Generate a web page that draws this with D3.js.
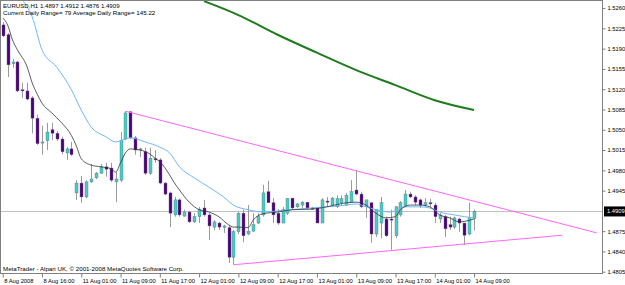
<!DOCTYPE html>
<html>
<head>
<meta charset="utf-8">
<title></title>
<style>
body { margin: 0; background: #fff; }
text { font-family: "Liberation Sans", Arial, sans-serif; }
</style>
</head>
<body>
<script src="https://cdnjs.cloudflare.com/ajax/libs/d3/7.8.5/d3.min.js"></script>
<script>

var w = 625, h = 285;

// tick labels on the time axis, one every 8 hourly bars
var timeLabels = ["8 Aug 2008", "8 Aug 16:00", "11 Aug 01:00", "11 Aug 09:00", "11 Aug 17:00",
    "12 Aug 01:00", "12 Aug 09:00", "12 Aug 17:00", "13 Aug 01:00", "13 Aug 09:00",
    "13 Aug 17:00", "14 Aug 01:00", "14 Aug 09:00"];
var priceTicks = [1.5260, 1.5225, 1.5190, 1.5155, 1.5120, 1.5085, 1.5050, 1.5015,
    1.4980, 1.4945, 1.4875, 1.4840, 1.4805];

// EURUSD H1 candles
var opens = [1.5231, 1.5214, 1.5164, 1.5167, 1.5119, 1.5117, 1.5105, 1.5070, 1.5027, 1.5031,
    1.5050, 1.5044, 1.5034, 1.5010, 1.5017, 1.4941, 1.4958, 1.4934, 1.4960, 1.4967,
    1.4975, 1.4986, 1.4984, 1.4960, 1.4963, 1.5034, 1.5081, 1.5036, 1.5015, 1.5012,
    1.4975, 1.5000, 1.4998, 1.4958, 1.4941, 1.4903, 1.4929, 1.4901, 1.4908, 1.4891,
    1.4900, 1.4915, 1.4903, 1.4882, 1.4889, 1.4881, 1.4881, 1.4830, 1.4874, 1.4906,
    1.4870, 1.4875, 1.4889, 1.4903, 1.4943, 1.4924, 1.4906, 1.4889, 1.4906, 1.4932,
    1.4917, 1.4920, 1.4925, 1.4915, 1.4915, 1.4889, 1.4927, 1.4920, 1.4917, 1.4924,
    1.4920, 1.4925, 1.4946, 1.4939, 1.4917, 1.4924, 1.4870, 1.4889, 1.4896, 1.4896,
    1.4867, 1.4903, 1.4918, 1.4939, 1.4934, 1.4929, 1.4920, 1.4924, 1.4920, 1.4896,
    1.4900, 1.4886, 1.4882, 1.4896, 1.4889, 1.4870, 1.4897];
var highs = [1.5236, 1.5217, 1.5172, 1.5169, 1.5131, 1.5131, 1.5108, 1.5076, 1.5057, 1.5062,
    1.5062, 1.5048, 1.5038, 1.5020, 1.5029, 1.4963, 1.4970, 1.4963, 1.4991, 1.4977,
    1.4991, 1.4993, 1.4993, 1.4977, 1.5046, 1.5082, 1.5082, 1.5039, 1.5019, 1.5019,
    1.5019, 1.5015, 1.5001, 1.4960, 1.4943, 1.4934, 1.4931, 1.4912, 1.4910, 1.4906,
    1.4917, 1.4929, 1.4906, 1.4894, 1.4891, 1.4886, 1.4886, 1.4877, 1.4908, 1.4912,
    1.4920, 1.4906, 1.4906, 1.4955, 1.4962, 1.4932, 1.4913, 1.4917, 1.4932, 1.4932,
    1.4924, 1.4927, 1.4925, 1.4917, 1.4915, 1.4932, 1.4934, 1.4934, 1.4937, 1.4937,
    1.4941, 1.4963, 1.4981, 1.4943, 1.4929, 1.4924, 1.4912, 1.4934, 1.4900, 1.4912,
    1.4918, 1.4927, 1.4946, 1.4943, 1.4937, 1.4931, 1.4932, 1.4931, 1.4924, 1.4906,
    1.4903, 1.4900, 1.4900, 1.4898, 1.4889, 1.4924, 1.4912];
var lows = [1.5210, 1.5141, 1.5157, 1.5115, 1.5105, 1.5101, 1.5044, 1.5024, 1.5007, 1.5015,
    1.5032, 1.5031, 1.5008, 1.4998, 1.5005, 1.4929, 1.4924, 1.4932, 1.4958, 1.4965,
    1.4974, 1.4969, 1.4960, 1.4925, 1.4960, 1.5032, 1.5034, 1.5007, 1.5003, 1.4972,
    1.4972, 1.4993, 1.4956, 1.4937, 1.4882, 1.4900, 1.4900, 1.4900, 1.4889, 1.4889,
    1.4889, 1.4900, 1.4860, 1.4877, 1.4877, 1.4872, 1.4820, 1.4817, 1.4870, 1.4856,
    1.4868, 1.4874, 1.4887, 1.4900, 1.4924, 1.4889, 1.4886, 1.4889, 1.4903, 1.4912,
    1.4915, 1.4913, 1.4912, 1.4912, 1.4889, 1.4889, 1.4917, 1.4917, 1.4915, 1.4920,
    1.4920, 1.4924, 1.4937, 1.4915, 1.4898, 1.4855, 1.4865, 1.4863, 1.4865, 1.4843,
    1.4863, 1.4900, 1.4917, 1.4932, 1.4920, 1.4915, 1.4917, 1.4917, 1.4889, 1.4889,
    1.4865, 1.4877, 1.4879, 1.4874, 1.4851, 1.4868, 1.4876];
var closes = [1.5212, 1.5162, 1.5167, 1.5117, 1.5117, 1.5103, 1.5070, 1.5026, 1.5029, 1.5046,
    1.5044, 1.5034, 1.5012, 1.5017, 1.5007, 1.4958, 1.4934, 1.4960, 1.4965, 1.4975,
    1.4986, 1.4982, 1.4963, 1.4965, 1.5032, 1.5079, 1.5036, 1.5015, 1.5017, 1.4975,
    1.5001, 1.4998, 1.4958, 1.4939, 1.4906, 1.4929, 1.4903, 1.4908, 1.4891, 1.4900,
    1.4913, 1.4903, 1.4884, 1.4891, 1.4882, 1.4884, 1.4830, 1.4874, 1.4906, 1.4867,
    1.4875, 1.4886, 1.4900, 1.4941, 1.4924, 1.4903, 1.4889, 1.4912, 1.4931, 1.4915,
    1.4922, 1.4925, 1.4915, 1.4913, 1.4889, 1.4929, 1.4925, 1.4932, 1.4931, 1.4931,
    1.4937, 1.4943, 1.4939, 1.4917, 1.4929, 1.4870, 1.4912, 1.4924, 1.4867, 1.4894,
    1.4917, 1.4924, 1.4939, 1.4934, 1.4925, 1.4920, 1.4924, 1.4922, 1.4900, 1.4903,
    1.4879, 1.4882, 1.4898, 1.4889, 1.4868, 1.4898, 1.4909];

// moving averages, read at some bars
var fastBars = [0, 1, 2, 3, 5, 6, 7, 8, 10, 12, 14, 15, 16, 18, 20, 22, 23, 24, 25, 26,
    28, 30, 31, 32, 34, 35, 36, 38, 40, 42, 44, 46, 47, 48, 50, 51, 53, 56, 59, 63,
    66, 70, 72, 74, 76, 78, 80, 81, 83, 85, 87, 89, 91, 93, 96];
var maFast = [1.5243, 1.5231, 1.5205, 1.5188, 1.5158, 1.5131, 1.5112, 1.5096, 1.5079, 1.5062,
    1.5040, 1.5022, 1.5000, 1.4989, 1.4986, 1.4983, 1.4977, 1.4993, 1.5010, 1.5017,
    1.5015, 1.5008, 1.5001, 1.4995, 1.4972, 1.4958, 1.4946, 1.4925, 1.4912, 1.4908,
    1.4900, 1.4886, 1.4882, 1.4882, 1.4881, 1.4894, 1.4905, 1.4908, 1.4912, 1.4913,
    1.4917, 1.4924, 1.4925, 1.4920, 1.4906, 1.4898, 1.4900, 1.4912, 1.4920, 1.4920,
    1.4917, 1.4903, 1.4898, 1.4891, 1.4896];
var slowBars = [4, 6, 8, 11, 14, 16, 18, 21, 23, 25, 26, 29, 32, 34, 36, 39, 42, 45, 47, 50,
    53, 56, 60, 63, 66, 70, 72, 74, 76, 79, 82, 85, 87, 89, 92, 94, 96];
var maSlow = [1.5274, 1.5245, 1.5188, 1.5158, 1.5119, 1.5084, 1.5055, 1.5038, 1.5029, 1.5034,
    1.5036, 1.5029, 1.5020, 1.5010, 1.4986, 1.4967, 1.4951, 1.4934, 1.4920, 1.4912,
    1.4908, 1.4910, 1.4913, 1.4915, 1.4917, 1.4920, 1.4922, 1.4917, 1.4912, 1.4908,
    1.4917, 1.4917, 1.4915, 1.4908, 1.4903, 1.4900, 1.4898];
var longBars = [41, 48, 56, 64, 72, 80, 88, 96];
var maLong = [1.5272, 1.5248, 1.5214, 1.5183, 1.5153, 1.5127, 1.5101, 1.5084];

// triangle trend lines
var upperBars = [25, 121], upperPrices = [1.5082, 1.4872];
var lowerBars = [47, 114], lowerPrices = [1.4817, 1.4868];
var lastPrice = 1.4909;

var svg = d3.select("body").append("svg")
    .attr("width", w)
    .attr("height", h)
    .style("display", "block");

svg.append("rect").attr("width", w).attr("height", h).attr("fill", "#fff");

var plotL = 1, plotR = 602, plotT = 1, plotB = 273;

var x = d3.scaleLinear().domain([0, 120]).range([2.7, 2.7 + 4.91 * 120]);
var y = d3.scaleLinear().domain([1.4805, 1.5260]).range([271.7, 8.1]);

svg.append("clipPath").attr("id", "plot")
    .append("rect")
    .attr("x", plotL).attr("y", plotT)
    .attr("width", plotR - plotL).attr("height", plotB - plotT);

var plot = svg.append("g").attr("clip-path", "url(#plot)");

// bid line
plot.append("line")
    .attr("x1", plotL).attr("x2", plotR)
    .attr("y1", Math.round(y(lastPrice)) + 0.5).attr("y2", Math.round(y(lastPrice)) + 0.5)
    .attr("stroke", "#c0c0c0");

var bars = d3.range(closes.length);

// wicks
plot.selectAll("line.wick")
    .data(bars)
    .enter()
    .append("line")
    .attr("class", "wick")
    .attr("x1", function(i) { return Math.round(x(i)) + 0.5; })
    .attr("x2", function(i) { return Math.round(x(i)) + 0.5; })
    .attr("y1", function(i) { return y(highs[i]); })
    .attr("y2", function(i) { return y(lows[i]); })
    .attr("stroke", "#9a9a9a")
    .attr("stroke-width", 1);

// bodies
plot.selectAll("rect.body")
    .data(bars)
    .enter()
    .append("rect")
    .attr("class", "body")
    .attr("x", function(i) { return Math.round(x(i)) - 1; })
    .attr("y", function(i) { return y(Math.max(opens[i], closes[i])); })
    .attr("width", 3)
    .attr("height", function(i) { return Math.max(1, Math.abs(y(opens[i]) - y(closes[i]))); })
    .attr("fill", function(i) { return closes[i] >= opens[i] ? "#40d0c8" : "#4b0082"; })
    .attr("stroke", "#707070")
    .attr("stroke-width", 0.4);

var line = d3.line()
    .x(function(d) { return x(d[0]); })
    .y(function(d) { return y(d[1]); })
    .curve(d3.curveMonotoneX);

plot.append("path")
    .datum(d3.zip(longBars, maLong))
    .attr("d", line)
    .attr("fill", "none")
    .attr("stroke", "#1e7b1e")
    .attr("stroke-width", 2);

plot.append("path")
    .datum(d3.zip(slowBars, maSlow))
    .attr("d", line)
    .attr("fill", "none")
    .attr("stroke", "#6fb7ff")
    .attr("stroke-width", 1);

plot.append("path")
    .datum(d3.zip(fastBars, maFast))
    .attr("d", line)
    .attr("fill", "none")
    .attr("stroke", "#333")
    .attr("stroke-width", 0.8);

// trend lines
[[upperBars, upperPrices], [lowerBars, lowerPrices]].forEach(function(t) {
    plot.append("line")
        .attr("x1", x(t[0][0])).attr("y1", y(t[1][0]))
        .attr("x2", x(t[0][1])).attr("y2", y(t[1][1]))
        .attr("stroke", "#ff66ff")
        .attr("stroke-width", 1);
});

// frame
svg.append("rect")
    .attr("x", plotL - 0.5).attr("y", plotT - 0.5)
    .attr("width", plotR - plotL + 1).attr("height", plotB - plotT + 1)
    .attr("fill", "none")
    .attr("stroke", "#808080");

// price axis
var yAxis = svg.append("g")
    .attr("transform", "translate(" + (plotR + 0.5) + ",0)")
    .call(d3.axisRight(y).tickValues(priceTicks).tickSize(3).tickPadding(2)
        .tickFormat(d3.format(".4f")));
yAxis.select(".domain").remove();
yAxis.selectAll("line").attr("stroke", "#808080");
yAxis.selectAll("text").attr("font-size", "5.8px").attr("fill", "#000")
    .attr("font-family", "Liberation Sans, Arial, sans-serif");

// current price box
svg.append("rect")
    .attr("x", plotR + 2).attr("y", y(lastPrice) - 5)
    .attr("width", w - plotR - 2).attr("height", 10)
    .attr("fill", "#000");
svg.append("text")
    .attr("x", plotR + 5).attr("y", y(lastPrice) + 2)
    .attr("font-size", "5.8px")
    .attr("fill", "#fff")
    .text(d3.format(".4f")(lastPrice));

// time axis
var timeBars = timeLabels.map(function(d, i) { return i * 8; });
var xAxis = svg.append("g")
    .attr("transform", "translate(0," + (plotB + 0.5) + ")")
    .call(d3.axisBottom(x).tickValues(timeBars).tickSize(4)
        .tickFormat(function(d, i) { return timeLabels[i]; }));
xAxis.select(".domain").remove();
xAxis.selectAll("line").attr("stroke", "#808080");
xAxis.selectAll("text")
    .attr("text-anchor", "start")
    .attr("dx", "1px")
    .attr("y", 5)
    .attr("font-size", "5.8px")
    .attr("fill", "#000")
    .attr("font-family", "Liberation Sans, Arial, sans-serif");

// header and footer texts
svg.append("text").attr("x", 3).attr("y", 7.5).attr("font-size", "6.1px")
    .text("EURUSD,H1 1.4897 1.4912 1.4876 1.4909");
svg.append("text").attr("x", 3).attr("y", 15).attr("font-size", "6.2px")
    .text("Current Daily Range= 79    Average Daily Range= 145.22");
svg.append("text").attr("x", 3).attr("y", 271).attr("font-size", "6.2px")
    .text("MetaTrader - Alpari UK, \u00a9 2001-2008 MetaQuotes Software Corp.");

</script>
</body>
</html>
